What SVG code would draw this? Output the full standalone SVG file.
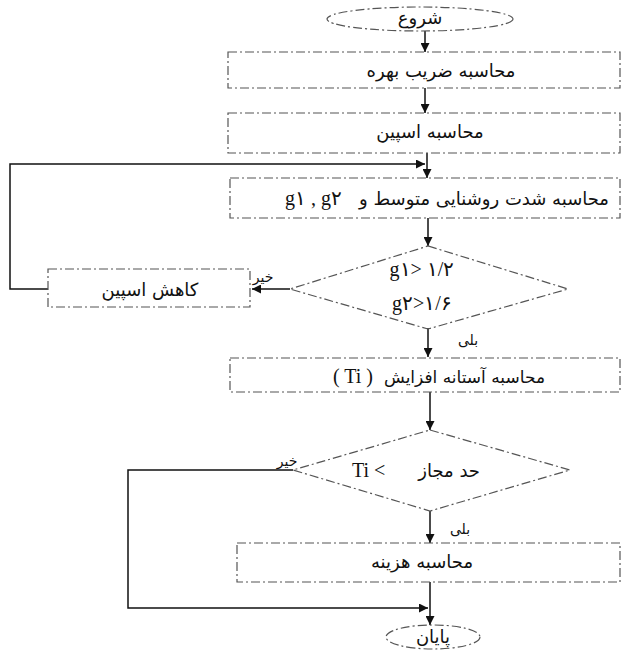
<svg xmlns="http://www.w3.org/2000/svg" width="625" height="652" viewBox="0 0 625 652">
<style>
.shape{fill:none;stroke:#555;stroke-width:1.2;stroke-dasharray:9,3,2,3}
.fa{font-family:"DejaVu Sans",sans-serif;font-size:18px;fill:#111;direction:ltr}
.lat{font-family:"Liberation Serif","DejaVu Serif",serif;font-size:20px;fill:#111}
.lbl{font-family:"DejaVu Sans",sans-serif;font-size:14px;fill:#111;direction:ltr}
.ln{fill:none;stroke:#111;stroke-width:1.5}
</style>
<defs>
<marker id="ah" viewBox="0 0 10 10" refX="10" refY="5" markerWidth="9" markerHeight="9" markerUnits="userSpaceOnUse" orient="auto">
<path d="M0,0 L10,5 L0,10 z" fill="#111"/>
</marker>
</defs>
<rect width="625" height="652" fill="#fff"/>
<g id="connectors">
<line class="ln" x1="425" y1="31" x2="425" y2="52" marker-end="url(#ah)"/>
<line class="ln" x1="425" y1="88" x2="425" y2="113" marker-end="url(#ah)"/>
<line class="ln" x1="427" y1="153" x2="427" y2="178" marker-end="url(#ah)"/>
<polyline class="ln" points="48,289 10,289 10,164 425,164" marker-end="url(#ah)"/>
<line class="ln" x1="428" y1="218" x2="428" y2="246" marker-end="url(#ah)"/>
<line class="ln" x1="290" y1="289" x2="252" y2="289" marker-end="url(#ah)"/>
<line class="ln" x1="428" y1="328" x2="428" y2="357" marker-end="url(#ah)"/>
<line class="ln" x1="430" y1="392" x2="430" y2="430" marker-end="url(#ah)"/>
<line class="ln" x1="430" y1="511" x2="430" y2="543" marker-end="url(#ah)"/>
<polyline class="ln" points="293,470 128,470 128,608 428,608" marker-end="url(#ah)"/>
<line class="ln" x1="430" y1="582" x2="430" y2="625" marker-end="url(#ah)"/>
<text class="lbl" x="263" y="282" text-anchor="middle">خیر</text>
<text class="lbl" x="468" y="345" text-anchor="middle">بلی</text>
<text class="lbl" x="287" y="466" text-anchor="middle">خیر</text>
<text class="lbl" x="460" y="534" text-anchor="middle">بلی</text>
</g>
<g id="start">
<ellipse class="shape" cx="420" cy="19" rx="93" ry="12"/>
<text class="fa" x="420" y="24" text-anchor="middle">شروع</text>
</g>
<g id="box1">
<rect class="shape" x="228" y="52" width="392" height="36"/>
<text class="fa" x="441" y="77" text-anchor="middle">محاسبه ضریب بهره</text>
</g>
<g id="box2">
<rect class="shape" x="228" y="113" width="392" height="40"/>
<text class="fa" x="430" y="138" text-anchor="middle">محاسبه اسپین</text>
</g>
<g id="box3">
<rect class="shape" x="230" y="178" width="390" height="40"/>
<text class="lat" x="285" y="205">g۱ , g۲</text>
<text class="fa" x="609" y="205" text-anchor="end">محاسبه شدت روشنایی متوسط و</text>
</g>
<g id="decision1">
<polygon class="shape" points="428,246 568,289 428,329 290,289"/>
<text class="lat" x="422" y="276" text-anchor="middle">g۱&gt; ۱/۲</text>
<text class="lat" x="422" y="310" text-anchor="middle">g۲&gt;۱/۶</text>
</g>
<g id="reduce">
<rect class="shape" x="48" y="269" width="202" height="38"/>
<text class="fa" x="150" y="296" text-anchor="middle">کاهش اسپین</text>
</g>
<g id="box4">
<rect class="shape" x="230" y="358" width="390" height="34"/>
<text class="lat" x="333" y="383">( Ti )</text>
<text class="fa" x="545" y="383" text-anchor="end" style="font-size:17px">محاسبه آستانه افزایش</text>
</g>
<g id="decision2">
<polygon class="shape" points="430,430 570,470 430,511 293,470"/>
<text class="lat" x="352" y="477">Ti &lt;</text>
<text class="fa" x="480" y="477" text-anchor="end">حد مجاز</text>
</g>
<g id="box5">
<rect class="shape" x="237" y="543" width="383" height="39"/>
<text class="fa" x="422" y="568" text-anchor="middle">محاسبه هزینه</text>
</g>
<g id="end">
<ellipse class="shape" cx="433" cy="637" rx="47" ry="12"/>
<text class="fa" x="433" y="643" text-anchor="middle">پایان</text>
</g>
</svg>
